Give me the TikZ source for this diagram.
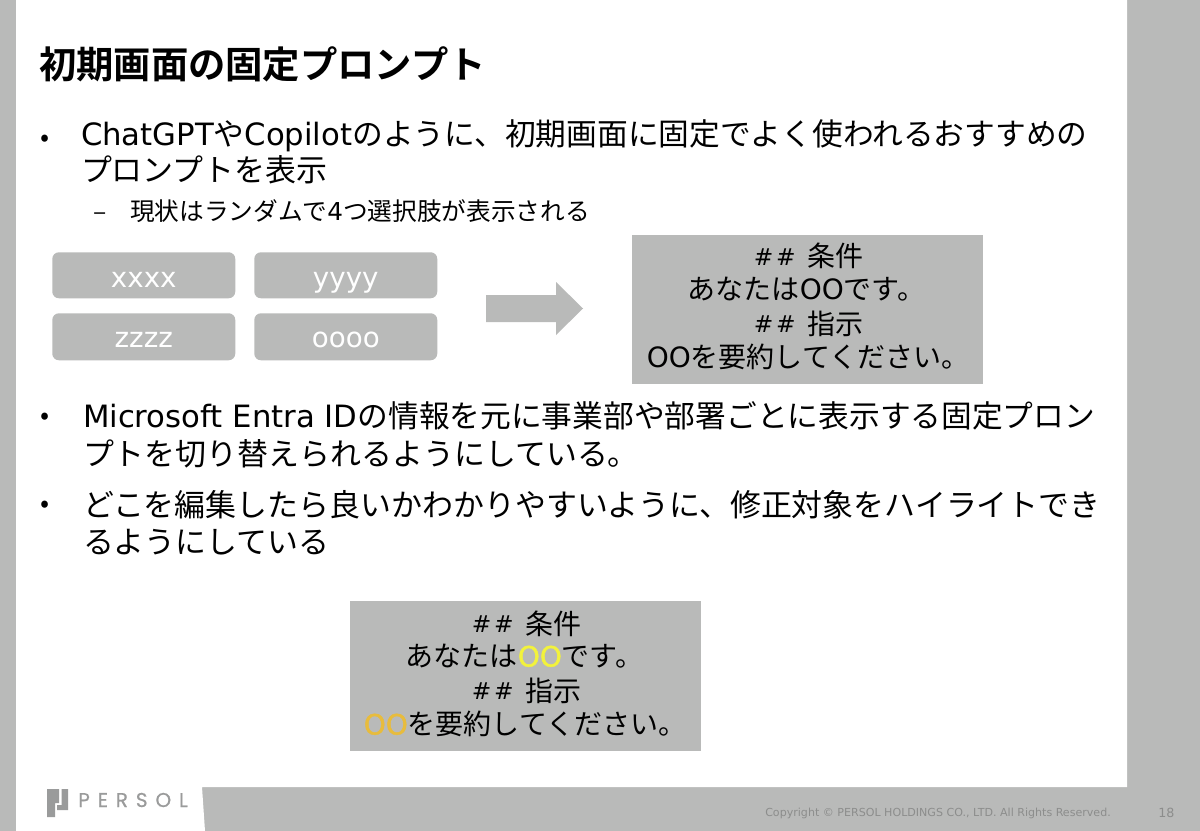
\documentclass[tikz,border=0pt]{standalone}
\usepackage{fontspec}
\setmainfont{Noto Sans CJK JP}[BoldFont={Noto Sans CJK JP Bold}]
\newfontfamily\lat{DejaVu Sans}
\newfontfamily\latb{DejaVu Sans}[FakeBold=1.6]
\newfontfamily\logofont{Poppins}[FakeBold=0.6]
\newcommand{\Lt}[1]{{\lat #1}}
\definecolor{band}{HTML}{B9BAB9}
\definecolor{logogray}{HTML}{9A9B9B}
\definecolor{foot}{HTML}{8C8D8C}
\definecolor{yel}{HTML}{F2F23C}
\definecolor{amb}{HTML}{E8BC3C}
\newcommand{\fs}[1]{\fontsize{#1}{#1}\selectfont}
\tikzset{
  x=0.75pt,y=-0.75pt,
  txt/.style={anchor=base west,inner sep=0pt,outer sep=0pt,text=black},
  body/.style={txt,font=\fs{23.2}},
  bodyl/.style={txt,font=\fs{23.05}},
  sub/.style={txt,font=\fs{18.5}},
  chip/.style={fill=band,draw=none,rounded corners=5pt,anchor=north west,inner sep=0pt,text=white,font=\lat\fs{20.8},minimum width=137.25pt,text depth=0pt},
  chiptop/.style={chip,minimum height=34.5pt,text height=18.8pt},
  chipbot/.style={chip,minimum height=35.25pt,text height=15.75pt},
  panel/.style={fill=band,draw=none},
  ptext/.style={anchor=base,inner sep=0pt,text=black,font=\fs{21}},
}
\newcommand{\hh}{\raisebox{0.8pt}{\lat\fs{17.5}\#\hspace{2pt}\#}\hspace{8.5pt}}
\begin{document}
\begin{tikzpicture}
\useasboundingbox (0,0) rectangle (1200,831);
\fill[band] (0,0) rectangle (1200,831);
\fill[white] (16,0) -- (1127,0) -- (1127,787) -- (202,787) -- (205,831) -- (16,831) -- cycle;
% title
\node[txt,font=\bfseries\fs{28}] (title) at (39,79) {初期画面の固定プロンプト};
% bullets and text
\node[txt,font=\fs{20}] (b1) at (40,147) {•};
\node[bodyl] (l1) at (81,146) {\Lt{ChatGPT}や\Lt{Copilot}のように、初期画面に固定でよく使われるおすすめの};
\node[body] (l2) at (81,182) {プロンプトを表示};
\node[sub] (d1) at (93,220) {–};
\node[sub] (l3) at (130,220) {現状はランダムで\Lt{4}つ選択肢が表示される};
\node[txt,font=\fs{20}] (b2) at (40,424) {•};
\node[bodyl] (l4) at (83,427) {\Lt{Microsoft Entra ID}の情報を元に事業部や部署ごとに表示する固定プロン};
\node[body] (l5) at (83,465) {プトを切り替えられるようにしている。};
\node[txt,font=\fs{20}] (b3) at (40,512) {•};
\node[body] (l6) at (83,516) {どこを編集したら良いかわかりやすいように、修正対象をハイライトでき};
\node[body] (l7) at (83,553) {るようにしている};
% chips
\node[chiptop] (c1) at (52,252) {xxxx};
\node[chiptop] (c2) at (254,252) {yyyy};
\node[chipbot] (c3) at (52,313) {zzzz};
\node[chipbot] (c4) at (254,313) {oooo};
% arrow
\fill[band] (486,295) -- (556,295) -- (556,282) -- (583,308.5) -- (556,335) -- (556,322) -- (486,322) -- cycle;
% panel 1
\fill[panel] (632,235) rectangle (983,384);
\node[ptext] (p1) at (808.5,267) {\hh 条件};
\node[ptext] (p2) at (806.5,299.5) {あなたは\Lt{OO}です。};
\node[ptext] (p3) at (808.5,334) {\hh 指示};
\node[ptext] (p4) at (808,367.5) {\Lt{OO}を要約してください。};
% panel 2
\fill[panel] (350,601) rectangle (701,751);
\node[ptext] (q1) at (526.5,634) {\hh 条件};
\node[ptext] (q2) at (524.5,666.5) {あなたは{\latb\color{yel}OO}です。};
\node[ptext] (q3) at (526.5,701) {\hh 指示};
\node[ptext] (q4) at (525,734.5) {{\latb\color{amb}OO}を要約してください。};
% logo
\fill[logogray] (47,789) -- (59,789) -- (59,803) -- (55,803) -- (55,817) -- (47,817) -- cycle;
\fill[logogray] (61.5,789) -- (68,789) -- (68,810) -- (57,810) -- (57,805) -- (61.5,805) -- cycle;
\node[anchor=base west,inner sep=0pt,text=logogray,font=\logofont\fs{15}] (logo) at (78,807) {P\hspace{5.9pt}E\hspace{5.9pt}R\hspace{5.9pt}S\hspace{5.9pt}O\hspace{5.9pt}L};
% footer
\node[anchor=base west,inner sep=0pt,text=foot,font=\lat\fs{8.3}] (copy) at (765,816) {Copyright © PERSOL HOLDINGS CO., LTD. All Rights Reserved.};
\node[anchor=base west,inner sep=0pt,text=foot,font=\lat\fs{9.5}] (num) at (1158,817) {18};
\end{tikzpicture}
\end{document}
